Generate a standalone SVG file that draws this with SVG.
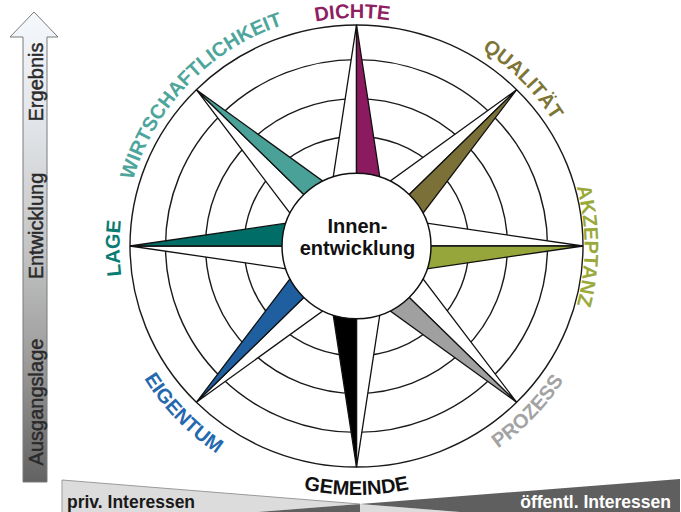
<svg xmlns="http://www.w3.org/2000/svg" width="681" height="512" viewBox="0 0 681 512">
<style>
.ring{fill:none;stroke:#1a1a1a;stroke-width:1.4;vector-effect:non-scaling-stroke}
.arm{stroke:#111;stroke-width:1.3;stroke-linejoin:miter;vector-effect:non-scaling-stroke}
.w{fill:#fff}
.lbl{font-family:"Liberation Sans",Arial,sans-serif;font-weight:bold;font-size:20px}
.axis{font-family:"Liberation Sans",Arial,sans-serif;font-size:20px;fill:#2a2a2a;stroke:#2a2a2a;stroke-width:0.45}
.bar{font-family:"Liberation Sans",Arial,sans-serif;font-weight:bold;font-size:17.5px}
.ctr{font-family:"Liberation Sans",Arial,sans-serif;font-weight:bold;font-size:20px;fill:#111}
</style>
<defs>
<linearGradient id="ag" x1="0" y1="0" x2="0" y2="1">
<stop offset="0" stop-color="#f5f9fd"/>
<stop offset="0.25" stop-color="#e0e3e7"/>
<stop offset="0.5" stop-color="#c4c5c6"/>
<stop offset="0.75" stop-color="#9a9a9a"/>
<stop offset="1" stop-color="#626262"/>
</linearGradient>
<path id="pDichte" d="M128.53,249.98 A228,228 0 0 1 584.47,242.02"/>
<path id="pQual" d="M191.74,81.24 A233,233 0 0 1 521.26,410.76"/>
<path id="pAkz" d="M356.5,18 A228,228 0 0 1 356.5,474"/>
<path id="pWirt" d="M194.64,413.61 A233,233 0 0 1 518.36,78.39"/>
<path id="pLage" d="M358.57,483 A237,237 0 0 1 354.43,9"/>
<path id="pGem" d="M107.5,246 A249,249 0 0 0 605.5,246"/>
<path id="pProz" d="M184.92,423.68 A247,247 0 0 0 528.08,68.32"/>
<path id="pEig" d="M181.45,64.73 A252,252 0 0 0 531.55,427.27"/>
</defs>

<g id="axis-arrow">
<polygon points="34,12 58,37 47,37 47,482 23,482 23,37 10,37" fill="url(#ag)" stroke="#7a7a7a" stroke-width="1"/>
<text class="axis" transform="translate(43,82) rotate(-90)" text-anchor="middle">Ergebnis</text>
<text class="axis" transform="translate(43,226) rotate(-90)" text-anchor="middle">Entwicklung</text>
<text class="axis" transform="translate(43,402) rotate(-90)" text-anchor="middle">Ausgangslage</text>
</g>

<g id="interest-bar">
<polygon points="62,480 360,504 258,512 62,512" fill="#dcdcdc"/>
<polygon points="360,504 460,512 360,512" fill="#dcdcdc"/>
<polygon points="680,479 680,512 460,512 360,504" fill="#5f5f5f"/>
<polygon points="258,512 360,504 360,512" fill="#5f5f5f"/>
<polyline points="62,512 62,480 360,504" fill="none" stroke="#9a9a9a" stroke-width="1"/>
<text class="bar" x="67" y="508" fill="#1a1a1a">priv. Interessen</text>
<text class="bar" x="671" y="508" fill="#ffffff" text-anchor="end">öffentl. Interessen</text>
</g>

<g id="rose" transform="translate(356.5,246) scale(1,0.976)">
<g id="rings">
<circle class="ring" r="226.5"/>
<circle class="ring" r="191"/>
<circle class="ring" r="151"/>
<circle class="ring" r="112.5"/>
</g>
<g id="arm-dichte">
<polygon class="arm w" points="0,-226.5 -24.87,-60.05 0,0"/>
<polygon class="arm" fill="#8b1a5e" points="0,-226.5 24.87,-60.05 0,0"/>
</g>
<g id="arm-qualitaet">
<polygon class="arm w" points="160.16,-160.16 24.87,-60.05 0,0"/>
<polygon class="arm" fill="#7a7038" points="160.16,-160.16 60.05,-24.87 0,0"/>
</g>
<g id="arm-akzeptanz">
<polygon class="arm w" points="226.5,0 60.05,-24.87 0,0"/>
<polygon class="arm" fill="#97a63a" points="226.5,0 60.05,24.87 0,0"/>
</g>
<g id="arm-prozess">
<polygon class="arm w" points="160.16,160.16 60.05,24.87 0,0"/>
<polygon class="arm" fill="#a0a0a0" points="160.16,160.16 24.87,60.05 0,0"/>
</g>
<g id="arm-gemeinde">
<polygon class="arm w" points="0,226.5 24.87,60.05 0,0"/>
<polygon class="arm" fill="#000000" points="0,226.5 -24.87,60.05 0,0"/>
</g>
<g id="arm-eigentum">
<polygon class="arm w" points="-160.16,160.16 -24.87,60.05 0,0"/>
<polygon class="arm" fill="#1f5fa0" points="-160.16,160.16 -60.05,24.87 0,0"/>
</g>
<g id="arm-lage">
<polygon class="arm w" points="-226.5,0 -60.05,24.87 0,0"/>
<polygon class="arm" fill="#006e66" points="-226.5,0 -60.05,-24.87 0,0"/>
</g>
<g id="arm-wirtschaftlichkeit">
<polygon class="arm w" points="-160.16,-160.16 -60.05,-24.87 0,0"/>
<polygon class="arm" fill="#4aa198" points="-160.16,-160.16 -24.87,-60.05 0,0"/>
</g>
<g id="center-node">
<circle r="74.5" fill="#ffffff" stroke="#111" stroke-width="1.5" vector-effect="non-scaling-stroke"/>
</g>
</g>

<g id="center-text">
<text class="ctr" x="357.5" y="233" text-anchor="middle">Innen-</text>
<text class="ctr" x="357.5" y="255" text-anchor="middle">entwicklung</text>
</g>

<g id="labels">
<text class="lbl" fill="#8e1f63"><textPath href="#pDichte" startOffset="50%" text-anchor="middle">DICHTE</textPath></text>
<text class="lbl" fill="#7d7536"><textPath href="#pQual" startOffset="50%" text-anchor="middle">QUALITÄT</textPath></text>
<text class="lbl" fill="#9aaa3a"><textPath href="#pAkz" startOffset="50%" text-anchor="middle">AKZEPTANZ</textPath></text>
<text class="lbl" fill="#a3a3a3"><textPath href="#pProz" startOffset="50%" text-anchor="middle">PROZESS</textPath></text>
<text class="lbl" fill="#111111"><textPath href="#pGem" startOffset="50%" text-anchor="middle">GEMEINDE</textPath></text>
<text class="lbl" fill="#2468ae"><textPath href="#pEig" startOffset="50%" text-anchor="middle">EIGENTUM</textPath></text>
<text class="lbl" fill="#0a7c74"><textPath href="#pLage" startOffset="50%" text-anchor="middle">LAGE</textPath></text>
<text class="lbl" fill="#4ea59b"><textPath href="#pWirt" startOffset="50%" text-anchor="middle">WIRTSCHAFTLICHKEIT</textPath></text>
</g>
</svg>
